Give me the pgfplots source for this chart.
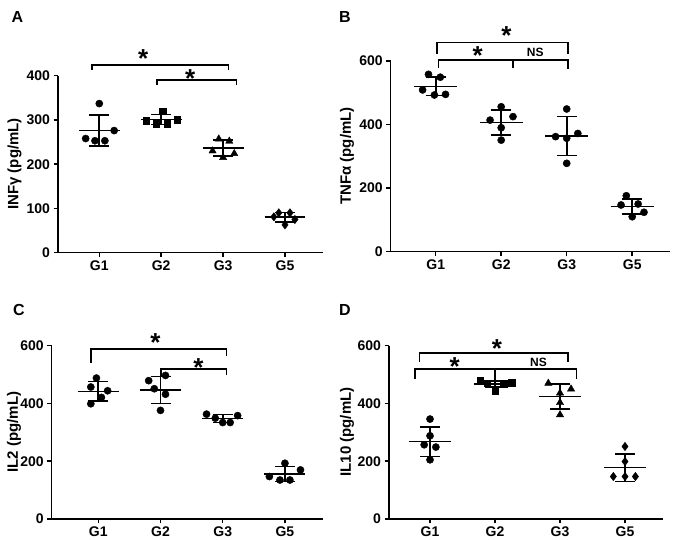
\documentclass[border=0pt]{standalone}
\usepackage{fontspec}
\setmainfont{Liberation Sans}
\usepackage{pgfplots}
\pgfplotsset{compat=1.18}

\pgfplotsset{
  panel/.style={
    scale only axis, anchor=south west,
    axis lines=left, axis line style={-, line width=1.5pt, black},
    ymin=0,
    xtick={0,1,2,3}, xticklabels={G1,G2,G3,G5},
    tick align=outside, major tick length=4.5pt,
    tick style={line width=1.5pt, black},
    ticklabel style={font=\bfseries\fontsize{14}{14}\selectfont},
    /pgf/number format/assume math mode=true,
    clip=false,
  },
  circ/.style={only marks, black, mark=*, mark size=3.6pt},
  sq/.style={only marks, black, mark=square*, mark size=3.3pt},
  tri/.style={only marks, black, mark=triangle*, mark size=4.2pt},
  dia/.style={only marks, black, mark=diamond*, mark size=4.2pt},
  mline/.style={black, line width=1.6pt, mark=none},
  sd/.style={black, line width=1.6pt, mark=none,
    error bars/.cd, y dir=both, y explicit,
    error bar style={line width=1.6pt, black},
    error mark options={rotate=90, mark size=10pt, line width=1.6pt, black}},
  br/.style={black, line width=1.4pt, mark=none},
}
\tikzset{
  star/.style={font=\bfseries\fontsize{26}{26}\selectfont, inner sep=0pt, yshift=-5pt},
  ns/.style={font=\bfseries\fontsize{12}{12}\selectfont, inner sep=0pt},
  letter/.style={font=\bfseries\fontsize{16}{16}\selectfont, inner sep=0pt},
  ylab/.style={font=\bfseries\fontsize{15}{15}\selectfont, rotate=90, inner sep=0pt},
}

\begin{document}
\begin{tikzpicture}[x=1pt,y=1pt]
\useasboundingbox (0,0) rectangle (680,540);

% ---------------- Panel A ----------------
\begin{axis}[panel, at={(58pt,287.3pt)}, width=265pt, height=177pt,
  xmin=-0.667, xmax=3.614, ymax=400, ytick={0,100,200,300,400}]
\addplot[circ] coordinates {(0,337) (-0.22,258) (-0.07,253) (0.09,253) (0.24,276)};
\addplot[sq] coordinates {(1.02,320) (0.76,298) (0.92,292) (1.10,292) (1.26,301)};
\addplot[tri] coordinates {(1.93,257) (2.10,252) (1.83,230) (2.18,224) (2.00,215)};
\addplot[dia] coordinates {(2.90,90) (3.08,90) (2.82,81) (3.16,75) (3.00,63)};
\addplot[mline] coordinates {(-0.33,276) (0.33,276)};
\addplot[mline] coordinates {(0.67,301) (1.33,301)};
\addplot[mline] coordinates {(1.67,237) (2.33,237)};
\addplot[mline] coordinates {(2.67,80) (3.33,80)};
\addplot[sd] coordinates {(0,276) +- (0,35)};
\addplot[sd] coordinates {(1,301) +- (0,11)};
\addplot[sd] coordinates {(2,237) +- (0,18)};
\addplot[sd] coordinates {(3,80) +- (0,11)};
\addplot[br] coordinates {(-0.12,413) (-0.12,424) (2.09,424) (2.09,413)};
\addplot[br] coordinates {(0.93,379) (0.93,390) (2.22,390) (2.22,379)};
\node[star] at (axis cs:0.71,451) {*};
\node[star] at (axis cs:1.47,405) {*};
\end{axis}

% ---------------- Panel B ----------------
\begin{axis}[panel, at={(390.7pt,288.3pt)}, width=279.3pt, height=190.7pt,
  xmin=-0.687, xmax=3.577, ymax=600, ytick={0,200,400,600}]
\addplot[circ] coordinates {(-0.11,558) (0.07,549) (-0.20,509) (-0.02,493) (0.15,495)};
\addplot[circ] coordinates {(1,456) (0.83,414) (1.18,425) (1,390) (1,351)};
\addplot[circ] coordinates {(2,449) (1.83,362) (2,357) (2.17,372) (2,278)};
\addplot[circ] coordinates {(2.91,176) (2.83,147) (3.09,150) (3.18,124) (3,110)};
\addplot[mline] coordinates {(-0.33,520) (0.33,520)};
\addplot[mline] coordinates {(0.67,407) (1.33,407)};
\addplot[mline] coordinates {(1.67,364) (2.33,364)};
\addplot[mline] coordinates {(2.67,142) (3.33,142)};
\addplot[sd] coordinates {(0,520) +- (0,29)};
\addplot[sd] coordinates {(1,407) +- (0,39)};
\addplot[sd] coordinates {(2,364) +- (0,61)};
\addplot[sd] coordinates {(3,142) +- (0,23)};
\addplot[br] coordinates {(0.02,622) (0.02,659) (2.02,659) (2.02,622)};
\addplot[br] coordinates {(0.04,579) (0.04,603) (2.02,603) (2.02,574)};
\addplot[br] coordinates {(1.18,603) (1.18,577)};
\node[star] at (axis cs:1.08,697) {*};
\node[star] at (axis cs:0.64,632) {*};
\node[ns] at (axis cs:1.52,626) {NS};
\end{axis}

% ---------------- Panel C ----------------
\begin{axis}[panel, at={(51.7pt,21pt)}, width=271.6pt, height=173.3pt,
  xmin=-0.749, xmax=3.617, ymax=600, ytick={0,200,400,600}]
\addplot[circ] coordinates {(-0.03,488) (-0.12,457) (0.15,444) (0.05,421) (-0.12,399)};
\addplot[circ] coordinates {(1.08,497) (0.81,479) (0.90,451) (1.08,432) (1,376)};
\addplot[circ] coordinates {(1.74,363) (1.88,349) (2,334) (2.12,334) (2.24,358)};
\addplot[circ] coordinates {(3,193) (2.75,147) (2.92,135) (3.08,135) (3.25,170)};
\addplot[mline] coordinates {(-0.33,442) (0.33,442)};
\addplot[mline] coordinates {(0.67,447) (1.33,447)};
\addplot[mline] coordinates {(1.67,348) (2.33,348)};
\addplot[mline] coordinates {(2.67,156) (3.33,156)};
\addplot[sd] coordinates {(0,442) +- (0,34)};
\addplot[sd] coordinates {(1,447) +- (0,47)};
\addplot[sd] coordinates {(2,348) +- (0,14)};
\addplot[sd] coordinates {(3,156) +- (0,26)};
\addplot[br] coordinates {(-0.12,540) (-0.12,588) (2.06,588) (2.06,563)};
\addplot[br] coordinates {(1.01,494) (1.01,520) (2.06,520) (2.06,497)};
\node[star] at (axis cs:0.92,627) {*};
\node[star] at (axis cs:1.61,540) {*};
\end{axis}

% ---------------- Panel D ----------------
\begin{axis}[panel, at={(389pt,21pt)}, width=274.3pt, height=173.3pt,
  xmin=-0.631, xmax=3.589, ymax=600, ytick={0,200,400,600}]
\addplot[circ] coordinates {(0,346) (0,288) (-0.09,257) (0.09,249) (0,205)};
\addplot[sq] coordinates {(0.77,480) (0.88,470) (1,445) (1.13,468) (1.26,472)};
\addplot[tri] coordinates {(1.82,470) (2.17,450) (2,436) (2,403) (2,361)};
\addplot[dia] coordinates {(3,251) (3,199) (2.82,147) (3,147) (3.16,147)};
\addplot[mline] coordinates {(-0.33,268) (0.33,268)};
\addplot[mline] coordinates {(0.67,467) (1.33,467)};
\addplot[mline] coordinates {(1.67,424) (2.33,424)};
\addplot[mline] coordinates {(2.67,178) (3.33,178)};
\addplot[sd] coordinates {(0,268) +- (0,51)};
\addplot[sd] coordinates {(1,467) +- (0,10)};
\addplot[sd] coordinates {(2,424) +- (0,44)};
\addplot[sd] coordinates {(3,178) +- (0,48)};
\addplot[br] coordinates {(-0.16,543) (-0.16,575) (2.12,575) (2.12,543)};
\addplot[br] coordinates {(-0.23,484) (-0.23,519) (2.25,519) (2.25,484)};
\addplot[br] coordinates {(1,519) (1,470)};
\node[star] at (axis cs:1.03,607) {*};
\node[star] at (axis cs:0.38,546) {*};
\node[ns] at (axis cs:1.67,542) {NS};
\end{axis}

% panel letters and y labels
\node[letter] at (17.5,522.5) {A};
\node[letter] at (345,522.5) {B};
\node[letter] at (19,230) {C};
\node[letter] at (345,230) {D};
\node[ylab] at (14.5,376) {INFγ (pg/mL)};
\node[ylab] at (347,384) {TNFα (pg/mL)};
\node[ylab] at (14,108) {IL2 (pg/mL)};
\node[ylab] at (347,108) {IL10 (pg/mL)};
\end{tikzpicture}
\end{document}
